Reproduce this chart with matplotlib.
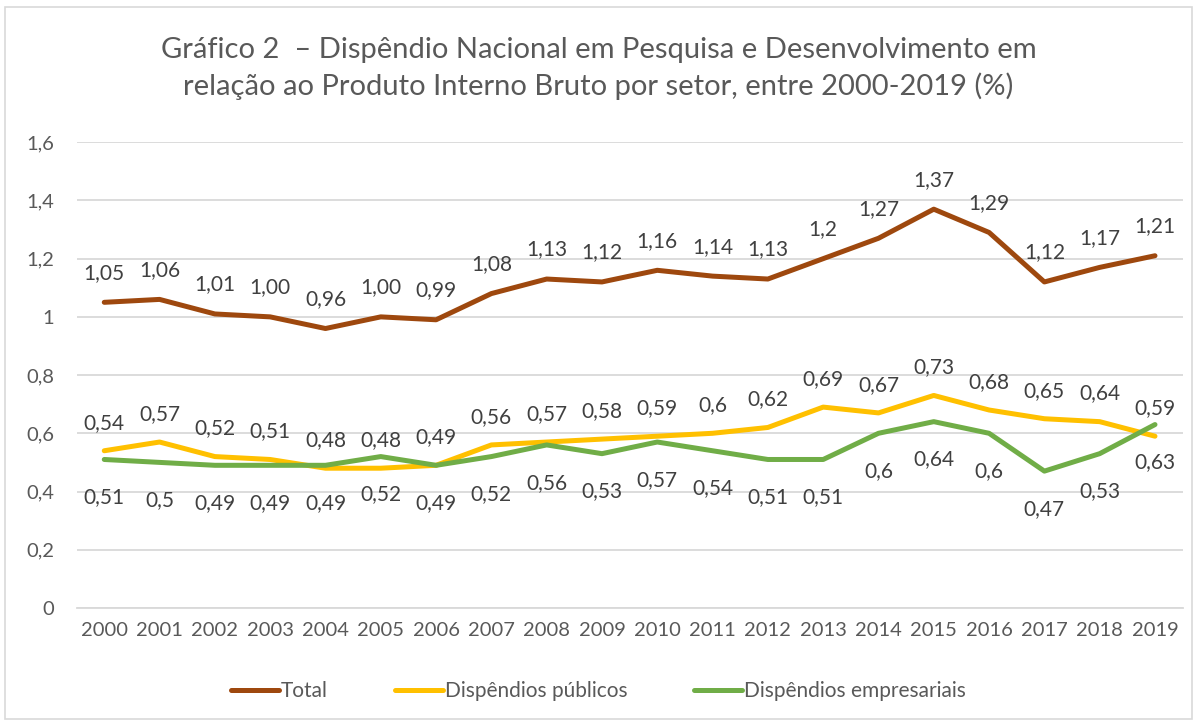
import matplotlib
matplotlib.use("Agg")
import matplotlib.pyplot as plt
from matplotlib.patches import Rectangle

years = [str(y) for y in range(2000, 2020)]
total = [1.05, 1.06, 1.01, 1.00, 0.96, 1.00, 0.99, 1.08, 1.13, 1.12, 1.16, 1.14, 1.13, 1.20, 1.27, 1.37, 1.29, 1.12, 1.17, 1.21]
publico = [0.54, 0.57, 0.52, 0.51, 0.48, 0.48, 0.49, 0.56, 0.57, 0.58, 0.59, 0.60, 0.62, 0.69, 0.67, 0.73, 0.68, 0.65, 0.64, 0.59]
empresa = [0.51, 0.50, 0.49, 0.49, 0.49, 0.52, 0.49, 0.52, 0.56, 0.53, 0.57, 0.54, 0.51, 0.51, 0.60, 0.64, 0.60, 0.47, 0.53, 0.63]
total_lbl = ["1,05", "1,06", "1,01", "1,00", "0,96", "1,00", "0,99", "1,08", "1,13", "1,12", "1,16", "1,14", "1,13", "1,2", "1,27", "1,37", "1,29", "1,12", "1,17", "1,21"]
publico_lbl = ["0,54", "0,57", "0,52", "0,51", "0,48", "0,48", "0,49", "0,56", "0,57", "0,58", "0,59", "0,6", "0,62", "0,69", "0,67", "0,73", "0,68", "0,65", "0,64", "0,59"]
empresa_lbl = ["0,51", "0,5", "0,49", "0,49", "0,49", "0,52", "0,49", "0,52", "0,56", "0,53", "0,57", "0,54", "0,51", "0,51", "0,6", "0,64", "0,6", "0,47", "0,53", "0,63"]
yticks = [0, 0.2, 0.4, 0.6, 0.8, 1.0, 1.2, 1.4, 1.6]
ytick_lbl = ["0", "0,2", "0,4", "0,6", "0,8", "1", "1,2", "1,4", "1,6"]

plt.rcParams['font.family'] = ['Lato', 'DejaVu Sans']
txt = '#595959'

fig = plt.figure(figsize=(11.97, 7.22), dpi=100)
fig.patches.append(Rectangle((0.004, 0.004), 0.992, 0.986, transform=fig.transFigure,
                             fill=False, edgecolor='#D9D9D9', lw=1.2))
ax = fig.add_axes([0.064, 0.158, 0.924, 0.645])
x = list(range(len(years)))

cols = ['#9E480E', '#FFC000', '#70AD47']
l1, = ax.plot(x, total, color=cols[0], lw=3.6, solid_capstyle='round', label='Total', zorder=3)
l2, = ax.plot(x, publico, color=cols[1], lw=3.6, solid_capstyle='round', label='Dispêndios públicos', zorder=3)
l3, = ax.plot(x, empresa, color=cols[2], lw=3.6, solid_capstyle='round', label='Dispêndios empresariais', zorder=3)

fs_lbl = 15
for xi, v, s in zip(x, total, total_lbl):
    ax.annotate(s, (xi, v), xytext=(0, 14), textcoords='offset points', ha='center', va='bottom', fontsize=fs_lbl, color='#404040')
for xi, v, s in zip(x, publico, publico_lbl):
    ax.annotate(s, (xi, v), xytext=(0, 13), textcoords='offset points', ha='center', va='bottom', fontsize=fs_lbl, color='#404040')
for xi, v, s in zip(x, empresa, empresa_lbl):
    ax.annotate(s, (xi, v), xytext=(0, -20), textcoords='offset points', ha='center', va='top', fontsize=fs_lbl, color='#404040')

ax.set_xlim(-0.5, len(years) - 0.5)
ax.set_ylim(0, 1.6)
ax.set_yticks(yticks)
ax.set_yticklabels(ytick_lbl)
ax.set_xticks(x)
ax.set_xticklabels(years)
ax.tick_params(length=0, labelsize=14.5, labelcolor=txt, pad=10)
ax.tick_params(axis='y', pad=16)
ax.grid(axis='y', color='#D9D9D9', lw=1.3)
ax.set_axisbelow(True)
for s in ['top', 'right', 'left']:
    ax.spines[s].set_visible(False)
ax.spines['bottom'].set_color('#D9D9D9')
ax.spines['bottom'].set_linewidth(1.3)

fig.text(0.5, 0.905, "Gráfico 2  – Dispêndio Nacional em Pesquisa e Desenvolvimento em\nrelação ao Produto Interno Bruto por setor, entre 2000-2019 (%)",
         ha='center', va='center', fontsize=21, color=txt, linespacing=1.4)

fig.legend(handles=[l1, l2, l3], loc='center', bbox_to_anchor=(0.5, 0.043), ncol=3, frameon=False,
           fontsize=15, labelcolor=txt, handlelength=2.3, handletextpad=0.1, columnspacing=3.2)

fig.savefig('out.png', dpi=100)
